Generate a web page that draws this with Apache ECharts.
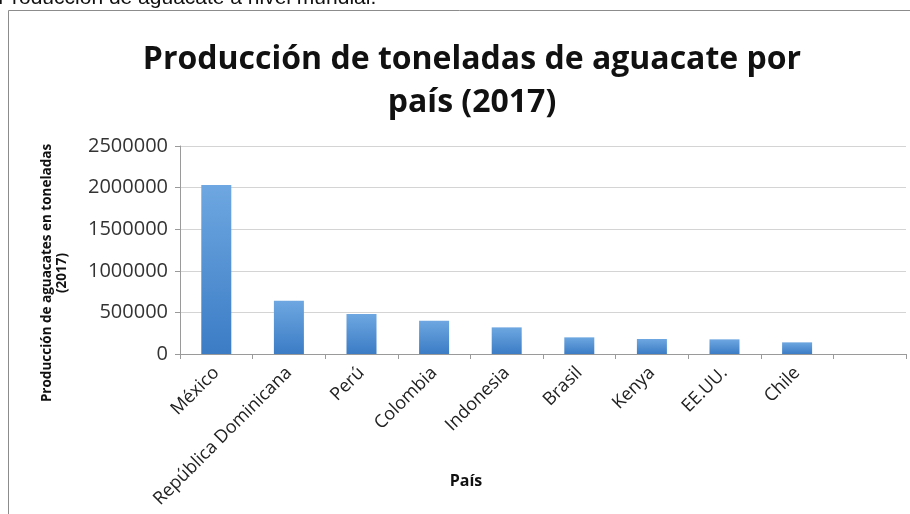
<!DOCTYPE html>
<html>
<head>
<meta charset="utf-8">
<script src="https://cdn.jsdelivr.net/npm/echarts@6/dist/echarts.min.js"></script>
<style>
  html, body { margin: 0; padding: 0; background: #fff; }
  #chart { width: 910px; height: 514px; }
</style>
</head>
<body>
<div id="chart"></div>
<script>
// datos (2017)
var paises = ['México', 'República Dominicana', 'Perú', 'Colombia', 'Indonesia', 'Brasil', 'Kenya', 'EE.UU.', 'Chile', ''];
var toneladas = [2029886, 640000, 480000, 400000, 320000, 200000, 180000, 176000, 140000, null];
var ejeY = { min: 0, max: 2500000, interval: 500000 };

var dom = document.getElementById('chart');
var myChart = echarts.init(dom);
var fuente = "'Open Sans', sans-serif";

var option = {
  backgroundColor: '#fff',
  animation: false,
  title: {
    text: 'Producción de toneladas de aguacate por\npaís (2017)',
    left: 467,
    top: 33,
    textAlign: 'center',
    textStyle: {
      fontFamily: fuente,
      fontWeight: 'bold',
      fontSize: 32,
      lineHeight: 43,
      color: '#111'
    }
  },
  grid: { left: 180, right: 4, top: 146, bottom: 160, containLabel: false },
  xAxis: {
    type: 'category',
    data: paises,
    boundaryGap: true,
    axisLine: { lineStyle: { color: '#9a9a9a' } },
    axisTick: { show: true, length: 5, lineStyle: { color: '#9a9a9a' } },
    axisLabel: {
      rotate: 45,
      interval: 0,
      margin: 16,
      fontFamily: fuente,
      fontSize: 18,
      color: '#222'
    }
  },
  yAxis: {
    type: 'value',
    min: ejeY.min,
    max: ejeY.max,
    interval: ejeY.interval,
    axisLine: { show: true, lineStyle: { color: '#9a9a9a' } },
    axisTick: { show: true, length: 5, lineStyle: { color: '#9a9a9a' } },
    splitLine: { lineStyle: { color: '#d4d4d4' } },
    axisLabel: {
      margin: 12,
      fontFamily: fuente,
      fontSize: 20,
      color: '#333',
      formatter: function (v) { return String(v); }
    }
  },
  graphic: [
    {
      type: 'rect',
      shape: { x: 8.5, y: 10.5, width: 910, height: 510 },
      style: { fill: 'none', stroke: '#8c8c8c', lineWidth: 1 },
      silent: true
    },
    {
      type: 'text',
      left: -2,
      top: -12,
      style: {
        text: 'Producción de aguacate a nivel mundial.',
        font: "21px 'Liberation Sans', Arial, sans-serif",
        fill: '#111'
      }
    },
    {
      type: 'text',
      x: 55,
      y: 273,
      rotation: Math.PI / 2,
      style: {
        text: 'Producción de aguacates en toneladas\n(2017)',
        font: "bold 13.5px 'Open Sans', sans-serif",
        lineHeight: 15,
        align: 'center',
        verticalAlign: 'middle',
        fill: '#111'
      }
    },
    {
      type: 'text',
      x: 466,
      y: 481,
      style: {
        text: 'País',
        font: "bold 16px 'Open Sans', sans-serif",
        align: 'center',
        verticalAlign: 'middle',
        fill: '#111'
      }
    }
  ],
  series: [
    {
      name: 'Toneladas',
      type: 'bar',
      data: toneladas,
      barWidth: 30,
      itemStyle: {
        color: new echarts.graphic.LinearGradient(0, 0, 0, 1, [
          { offset: 0, color: '#6ea7e1' },
          { offset: 1, color: '#3b7cc5' }
        ])
      }
    }
  ]
};

if (option && typeof option === 'object') {
  myChart.setOption(option, true);
}
</script>
</body>
</html>
